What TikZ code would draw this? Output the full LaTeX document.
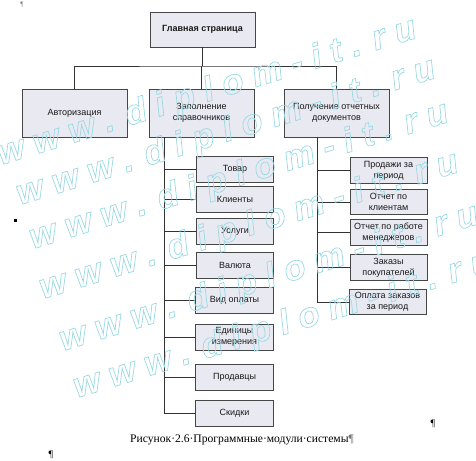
\documentclass[tikz,border=0pt]{standalone}
\usepackage{fontspec}
\setmainfont{Liberation Serif}
\setsansfont{Liberation Sans}
\newfontfamily\wmfont{Liberation Sans}
\usetikzlibrary{calc}
\definecolor{boxfill}{RGB}{233,233,242}
\definecolor{boxline}{RGB}{70,70,70}
\definecolor{wmcol}{RGB}{160,215,225}
\newcommand\wmon{\special{pdf:literal direct 0.6 0.85 0.89 RG 0.7 w 1 Tr}}
\newcommand\wmoff{\special{pdf:literal direct 0 Tr}}
\tikzset{
  box/.style={draw=boxline, fill=boxfill, line width=0.9pt,
    font=\sffamily\fontsize{9}{11}\selectfont, align=center, inner sep=1pt, text=black!90},
  mainbox/.style={box, minimum width=105pt, minimum height=35pt,
    font=\sffamily\bfseries\fontsize{9}{11}\selectfont},
  topbox/.style={box, minimum width=105pt, minimum height=48pt},
  lbox/.style={box, minimum width=77.5pt, minimum height=26pt},
  rbox/.style={box, minimum width=77pt, minimum height=25.5pt},
  conn/.style={draw=black!80, line width=0.9pt},
  wm/.style={font=\wmfont\bfseries\itshape\fontsize{35}{35}\selectfont, text=wmcol, inner sep=0pt},
  pmark/.style={font=\fontsize{10}{10}\selectfont, inner sep=0pt},
}
\begin{document}
\begin{tikzpicture}[x=1pt,y=-1pt]
\useasboundingbox (0,0) rectangle (476,460);
\fill[white] (0,0) rectangle (476,460);

% top levels
\node[mainbox] (main) at (202.5,29.5) {Главная страница};
\node[topbox] (auth) at (74.5,113) {Авторизация};
\node[topbox] (fill) at (201.5,113) {Заполнение\\справочников};
\node[topbox] (rep) at (336.5,113) {Получение отчетных\\документов};

% left children
\node[lbox] (l1) at (235,169) {Товар};
\node[lbox] (l2) at (235,199.5) {Клиенты};
\node[lbox] (l3) at (235,231.5) {Услуги};
\node[lbox] (l4) at (235,265) {Валюта};
\node[lbox] (l5) at (234.5,300.5) {Вид оплаты};
\node[lbox] (l6) at (234.5,337) {Единицы\\измерения};
\node[lbox] (l7) at (234.5,377) {Продавцы};
\node[lbox] (l8) at (234.5,413) {Скидки};

% right children
\node[rbox] (r1) at (388.5,170.5) {Продажи за\\период};
\node[rbox] (r2) at (388.5,202) {Отчет по\\клиентам};
\node[rbox] (r3) at (388.5,232.5) {Отчет по работе\\менеджеров};
\node[rbox] (r4) at (388.5,267.5) {Заказы\\покупателей};
\node[rbox] (r5) at (387.5,302) {Оплата заказов\\за период};

% connectors
\coordinate (bus) at (203,66);
\draw[conn] (main.south) -- (main.south |- bus);
\draw[conn] (auth.north) |- (bus) -| (rep.north);
\draw[conn] (fill.north) -- (fill.north |- bus);

\coordinate (tl) at ($(fill.south west)+(16,0)$);
\draw[conn] (tl) |- (l8.west);
\foreach \n in {l1,l2,l3,l4,l5,l6,l7} \draw[conn] (tl |- \n.west) -- (\n.west);

\coordinate (tr) at ($(rep.south west)+(34,0)$);
\draw[conn] (tr) |- (r5.west);
\foreach \n in {r1,r2,r3,r4} \draw[conn] (tr |- \n.west) -- (\n.west);

% caption and marks
\node[font=\fontsize{11.6}{14}\selectfont] (cap) at (242,440)
  {Рисунок·2.6·Программные·модули·системы\textcolor{black!55}{¶}};
\node[pmark, text=black!50, font=\fontsize{7}{7}\selectfont] (p1) at (22,5) {¶};
\node[pmark] (p2) at (433,424) {¶};
\node[pmark] (p3) at (51,455) {¶};
\fill[black] (14,219) rectangle (16.5,221.5);

% watermark
\foreach \x/\y [count=\k] in {1/165, 20/205, 33/249, 43/299, 63/351, 77/398}
  \node[wm, anchor=base west, rotate=17] (wm\k) at (\x,\y)
    {\wmon w w w . d i p l o m - i t . r u\wmoff};
\end{tikzpicture}
\end{document}
